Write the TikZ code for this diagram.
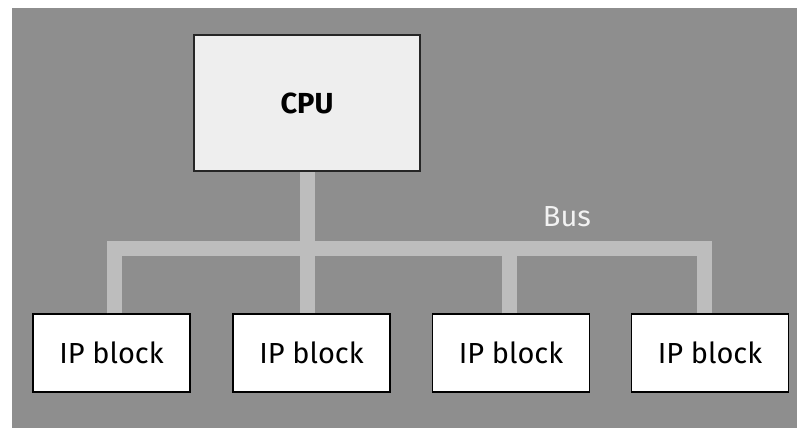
\documentclass[tikz,border=0pt]{standalone}
\usepackage{fontspec}
\setmainfont{Fira Sans}

\definecolor{bggray}{HTML}{8E8E8E}
\definecolor{busgray}{HTML}{BDBDBD}
\definecolor{cpufill}{HTML}{EEEEEE}

\begin{document}
\begin{tikzpicture}
  [x=1pt, y=-1pt,
    every node/.style={font=\fontsize{29}{34}\selectfont},
    cpubox/.style={draw=black!85, line width=2pt, fill=cpufill,
      minimum width=226pt, minimum height=136pt, font=\fontsize{29}{34}\selectfont\bfseries},
    ipbox/.style={draw=black, line width=1.5pt, fill=white,
      minimum width=157pt, minimum height=78pt},
    bus/.style={draw=busgray, line width=15pt},
]

  \useasboundingbox (0,0) rectangle (797,428);
  \fill[bggray] (12,8) rectangle (797,428);

  \node[cpubox] (cpu) at (307,103) {CPU};

  \node[ipbox] (ip1) at (111.5,353) {IP block};
  \node[ipbox] (ip2) at (311.5,353) {IP block};
  \node[ipbox] (ip3) at (511,353)   {IP block};
  \node[ipbox] (ip4) at (710,353)   {IP block};

  % the bus and its taps
  \coordinate (busL) at (114,248);
  \coordinate (busR) at (704,248);
  \draw[bus] ([xshift=2.5pt]ip1.north) -- (busL) -- (busR) -- ([xshift=-6pt]ip4.north);
  \draw[bus] (cpu.south) -- (cpu.south |- ip2.north);
  \draw[bus] ([xshift=-1.5pt]ip3.north) -- ([xshift=-1.5pt]ip3.north |- busL);

  \node[text=white!95!black] (buslabel) at (567,217) {Bus};
\end{tikzpicture}
\end{document}
